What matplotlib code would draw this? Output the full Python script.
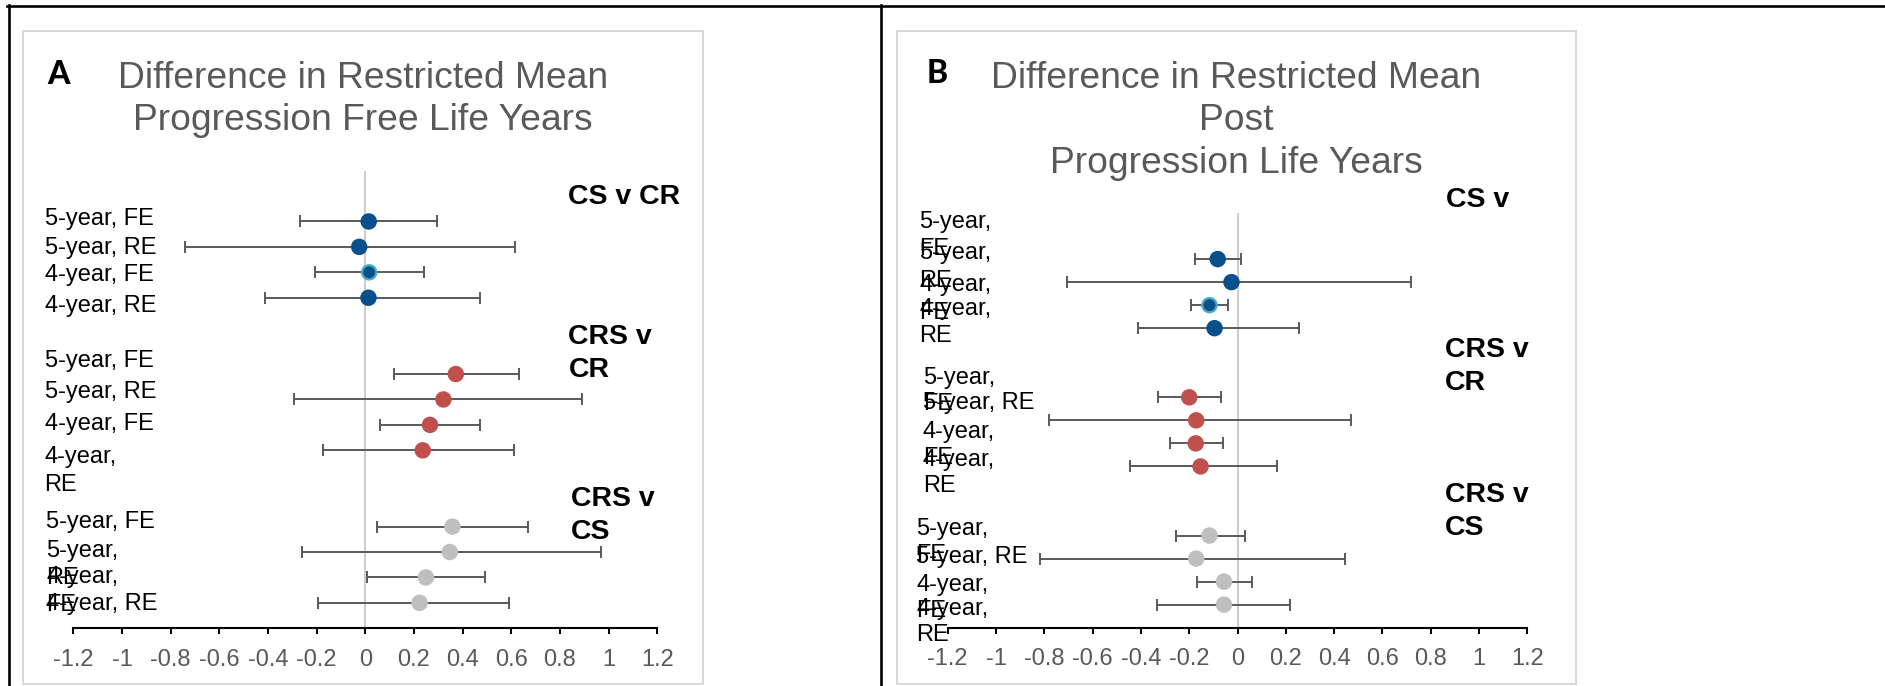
import matplotlib.pyplot as plt
from matplotlib.lines import Line2D
from matplotlib.patches import Rectangle

W, H = 1885, 686

# rows in each comparison (top to bottom), Excel scatter y values
rows = ['5-year, FE', '5-year, RE', '4-year, FE', '4-year, RE']
ypos = [16, 15, 14, 13, 10, 9, 8, 7, 4, 3, 2, 1]
groups = ['CS v CR', 'CRS v CR', 'CRS v CS']

# panel A: progression free life years
pfly_est = [0.014, -0.025, 0.016, 0.013, 0.372, 0.321, 0.266, 0.236, 0.358, 0.347, 0.249, 0.223]
pfly_lo = [-0.27, -0.74, -0.208, -0.413, 0.117, -0.295, 0.06, -0.174, 0.049, -0.259, 0.007, -0.195]
pfly_hi = [0.296, 0.615, 0.243, 0.47, 0.632, 0.889, 0.472, 0.613, 0.67, 0.97, 0.492, 0.589]

# panel B: post progression life years
pply_est = [-0.082, -0.025, -0.116, -0.095, -0.2, -0.171, -0.173, -0.153, -0.116, -0.171, -0.056, -0.056]
pply_lo = [-0.176, -0.705, -0.193, -0.413, -0.328, -0.779, -0.28, -0.444, -0.256, -0.818, -0.167, -0.332]
pply_hi = [0.016, 0.718, -0.038, 0.253, -0.069, 0.468, -0.062, 0.164, 0.029, 0.446, 0.06, 0.219]

xticks = [-1.2, -1, -0.8, -0.6, -0.4, -0.2, 0, 0.2, 0.4, 0.6, 0.8, 1, 1.2]

blue, red, grey = '#08508C', '#C0504D', '#BFBFBF'
face = [blue] * 4 + [red] * 4 + [grey] * 4
edge = list(face)
edge[2] = '#4BACC6'

plt.rcParams['font.family'] = 'Liberation Sans'

fig = plt.figure(figsize=(W / 100, H / 100), dpi=100)


def fx(x):
    return x / W


def fy(y):
    return 1 - y / H


def txt(x, y, s, size, ha='left', **kw):
    # y is the middle of the capitals; matplotlib centres on the full line box
    y = y + 0.1 * size * 100 / 72
    fig.text(fx(x), fy(y), s, va='center', ha=ha, fontsize=size, **kw)


def label(x, y, s, gap=27.5, size=17, **kw):
    # wrapped text boxes, lines drawn one by one so the overlaps match
    for k, line in enumerate(s.split('\n')):
        txt(x, y + k * gap, line, size, color='black', **kw)


# table borders
for xs, ys in [([7, W], [6, 6]), ([8.5, 8.5], [5, H]), ([881, 881], [5, H])]:
    fig.add_artist(Line2D([fx(v) for v in xs], [fy(v) for v in ys], color='black', lw=1.9))
# chart area boxes
for x0, x1 in [(22.7, 703), (897, 1576)]:
    fig.add_artist(Rectangle((fx(x0), fy(684)), fx(x1 - x0), (684 - 30.7) / H,
                             fill=False, edgecolor='#D9D9D9', lw=1.4))


def panel(left, right, top, bottom, est, lo, hi):
    ax = fig.add_axes([fx(left), fy(bottom), fx(right - left), (bottom - top) / H])
    ax.axvline(0, color='#BFBFBF', lw=1.1, zorder=0)
    xerr = [[e - l for e, l in zip(est, lo)], [h - e for e, h in zip(est, hi)]]
    ax.errorbar(est, ypos, xerr=xerr, fmt='none', ecolor='#595959', elinewidth=1.4,
                capsize=4.4, capthick=1.4, zorder=2)
    ax.scatter(est, ypos, s=105, c=face, edgecolors=edge, linewidths=1.6, zorder=3)
    ax.set_xlim(-1.2, 1.2)
    ax.set_ylim(0, 18)
    ax.set_xticks(xticks)
    ax.set_xticklabels(['{:g}'.format(t) for t in xticks])
    ax.set_yticks([])
    for s in ['left', 'right', 'top']:
        ax.spines[s].set_visible(False)
    ax.spines['bottom'].set_linewidth(1.5)
    ax.tick_params(axis='x', direction='out', length=4.1, width=1.45, color='black',
                   labelsize=17, labelcolor='#595959', pad=10.5)
    ax.patch.set_alpha(0)
    return ax


panel(73.3, 657.3, 170.6, 628.3, pfly_est, pfly_lo, pfly_hi)
panel(947.7, 1527.3, 213, 627.7, pply_est, pply_lo, pply_hi)

# titles
tkw = dict(size=26.8, color='#595959', ha='center')
txt(363, 74.4, 'Difference in Restricted Mean', **tkw)
txt(363, 117, 'Progression Free Life Years', **tkw)
txt(1236, 74.4, 'Difference in Restricted Mean', **tkw)
txt(1236, 117, 'Post', **tkw)
txt(1236, 160, 'Progression Life Years', **tkw)

txt(47, 71, 'A', 23, fontweight='black', family='Lato')
txt(927, 70, 'B', 23, fontweight='black', family='Lato')

# group headings
gkw = dict(size=20.5, fontweight='bold')
label(568.4, 193.8, groups[0], **gkw)
label(568.4, 334.6, 'CRS v\nCR', gap=33, **gkw)
label(570.7, 496.5, 'CRS v\nCS', gap=33, **gkw)
label(1446, 197, 'CS v', **gkw)
label(1444.7, 347, 'CRS v\nCR', gap=33, **gkw)
label(1444.7, 492, 'CRS v\nCS', gap=33, **gkw)

# row labels, panel A
for y, s in zip([217, 245.5, 272.5, 303.5], rows):
    label(44.5, y, s)
for y, s in zip([358.7, 389.8, 422.1, 455], rows[:3] + ['4-year,\nRE']):
    label(44.5, y, s)
for y, s in zip([519.3, 548.3, 575, 601.7], [rows[0], '5-year,\nRE', '4-year,\nFE', rows[3]]):
    label(46, y, s)

# row labels, panel B
wrapped = ['5-year,\nFE', '5-year,\nRE', '4-year,\nFE', '4-year,\nRE']
for y, s in zip([219.5, 251, 283, 306.5], wrapped):
    label(919, y, s, gap=27.5)
for y, s in zip([376, 401, 430, 458], [wrapped[0], rows[1], wrapped[2], wrapped[3]]):
    label(922.7, y, s, gap=26)
for y, s in zip([526.5, 555, 582.3, 606.7], [wrapped[0], rows[1], wrapped[2], wrapped[3]]):
    label(916, y, s, gap=26)

fig.savefig('out.png', dpi=100)
